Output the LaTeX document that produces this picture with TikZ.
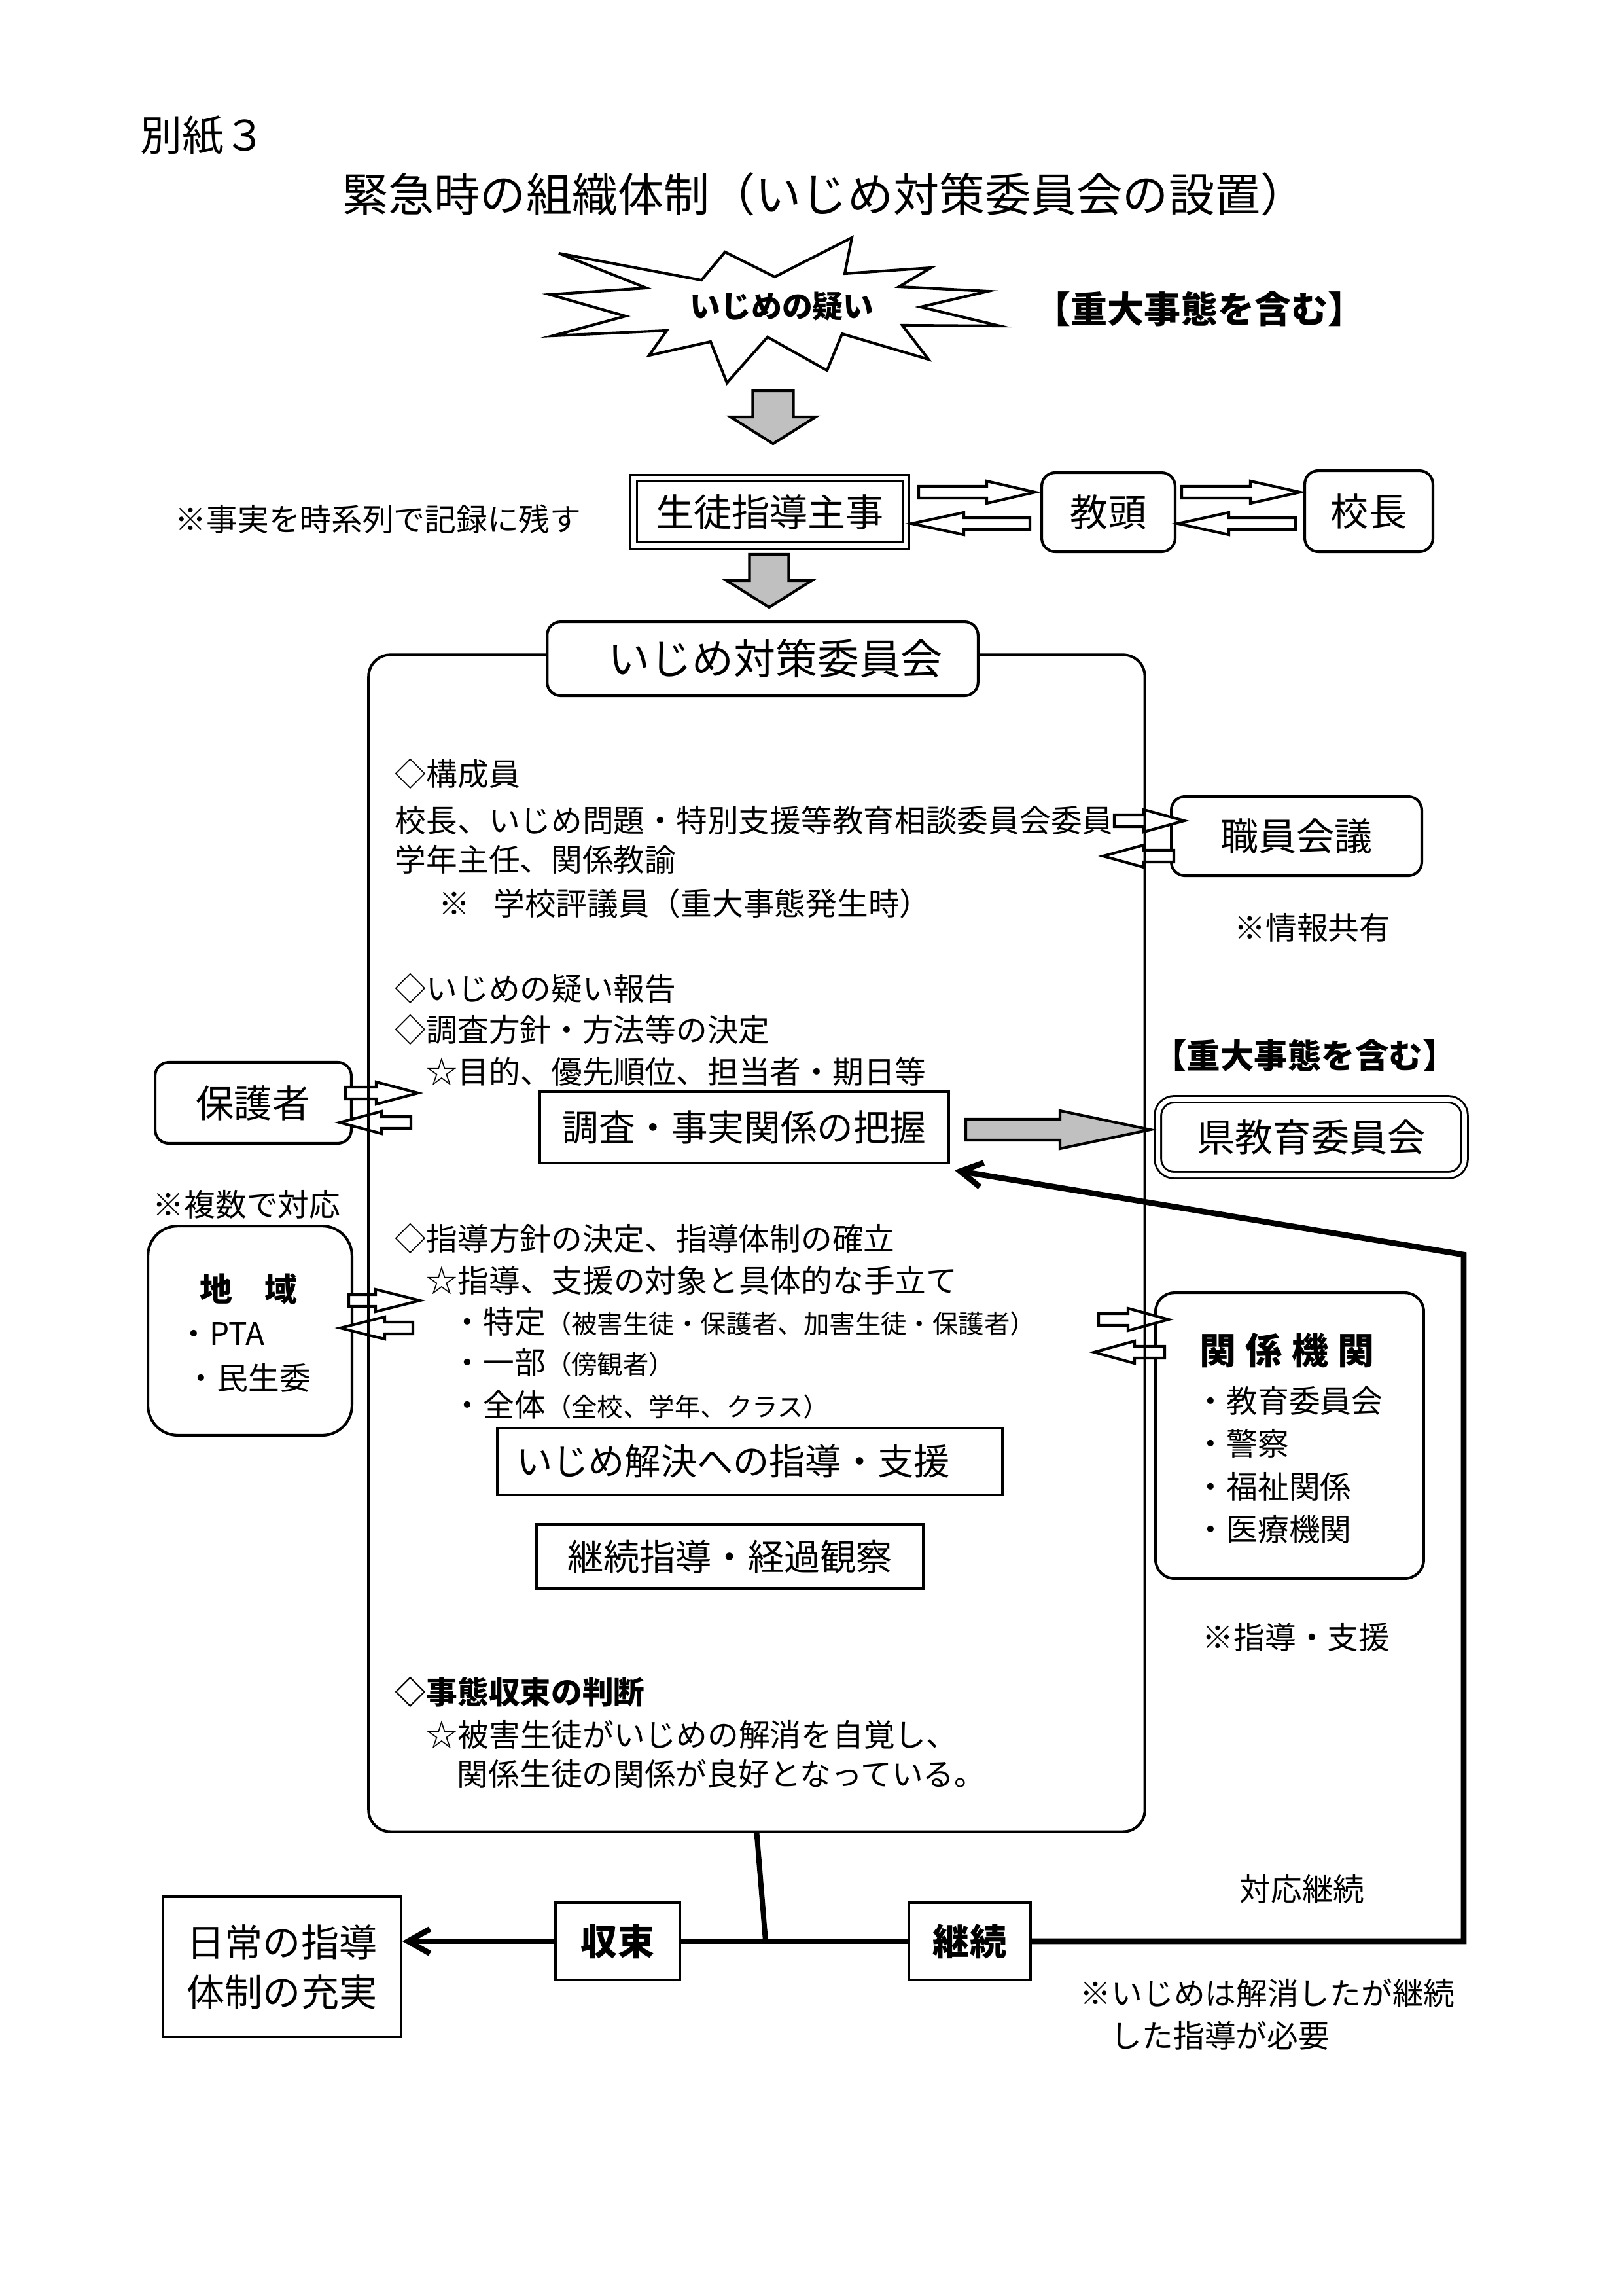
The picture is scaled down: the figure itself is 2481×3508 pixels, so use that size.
\documentclass[tikz,border=0pt]{standalone}
\usepackage{fontspec}
\setmainfont{Noto Sans CJK JP}
\usetikzlibrary{arrows.meta}
\newcommand\pxl{0.24083pt}
\newcommand\smallp[1]{{\fontsize{9.5}{11}\selectfont #1}}
\definecolor{arrowgray}{RGB}{192,192,192}
\begin{document}
\begin{tikzpicture}[x=0.0084643cm,y=-0.0084643cm,
    every node/.style={inner sep=0pt,font=\fontsize{11.5}{14}\selectfont},
    txt/.style={anchor=west},
    wh/.style 2 args={minimum width=#1*\pxl,minimum height=#2*\pxl},
    box/.style={draw,line width=1pt,fill=white,font=\fontsize{14}{18.3}\selectfont},
    rbox/.style={box,rounded corners=5pt},
    dline/.style={double,double distance=1.7pt,line width=0.7pt},
    heavy/.style={line width=2.1pt},
    barb/.style={-{Straight Barb[length=8pt,width=9pt]}},
    pics/openarrow/.style 2 args={code={
      \draw[line width=1pt,fill=white] (0,-9) -- (#1-#2,-9) -- (#1-#2,-17)
        -- (#1,0) -- (#1-#2,17) -- (#1-#2,9) -- (0,9) -- cycle;}},
    pics/grayarrow/.style n args={4}{code={
      \draw[line width=1pt,fill=arrowgray] (0,-#3) -- (#1-#2,-#3) -- (#1-#2,-#4)
        -- (#1,0) -- (#1-#2,#4) -- (#1-#2,#3) -- (0,#3) -- cycle;}}]
  \useasboundingbox (0,0) rectangle (2481,3508);
  \node[txt,font=\fontsize{15.4}{18}\selectfont] (bessi) at (214,207) {別紙３};
  \node[font=\fontsize{16.9}{20}\selectfont] (title) at (1260,297) {緊急時の組織体制（いじめ対策委員会の設置）};
  % starting point
  \draw[line width=1pt,fill=white] (854,387) -- (1072,428) -- (1108,385) -- (1184,423)
    -- (1302,363) -- (1291,418) -- (1423,409) -- (1374,438) -- (1510,445) -- (1407,469)
    -- (1528,498) -- (1379,497) -- (1419,549) -- (1287,510) -- (1264,566) -- (1173,515)
    -- (1111,585) -- (1086,522) -- (992,543) -- (1019,505) -- (845,513) -- (956,483)
    -- (840,450) -- (988,440) -- cycle;
  \node[font=\bfseries\fontsize{11.3}{14}\selectfont] (giwaku) at (1195,468) {いじめの疑い};
  \node[font=\bfseries\fontsize{13.5}{16}\selectfont] (juudai) at (1833,472) {【重大事態を含む】};
  \pic[rotate=-90] at (1181.5,597) {grayarrow={81}{41}{31}{65}};
  % first report
  \node[box,dline,wh={416}{103}] (shido) at (1176.5,782) {生徒指導主事};
  \node[rbox,wh={204}{121}] (kyoto) at (1694,782.5) {教頭};
  \node[rbox,wh={196}{124}] (kocho) at (2092,781) {校長};
  \node[txt] (kiroku) at (267,793) {※事実を時系列で記録に残す};
  \pic at (1404,752) {openarrow={178}{74}};
  \pic[rotate=180] at (1574,800) {openarrow={181}{80}};
  \pic at (1806,752) {openarrow={181}{76}};
  \pic[rotate=180] at (1980,800) {openarrow={180}{78}};
  \pic[rotate=-90] at (1175.5,847) {grayarrow={81}{41}{30}{65}};
  % outside partners
  \node[rbox,wh={383}{121}] (shokuin) at (1981.5,1277.5) {職員会議};
  \node (johokyoyu) at (2006,1417) {※情報共有};
  \node[font=\bfseries\fontsize{12.4}{15}\selectfont] (juudai2) at (1994,1613) {【重大事態を含む】};
  \node[rbox,dline,wh={469}{116},rounded corners=6pt] (kenkyoi) at (2004,1737.5) {県教育委員会};
  \node[rbox,wh={300}{124}] (hogosha) at (387,1685) {保護者};
  \node[txt] (fukusu) at (233,1840) {※複数で対応};
  \node[rbox,wh={312}{320},rounded corners=11pt] (chiiki) at (382,2033) {};
  \node[font=\bfseries\fontsize{12}{14}\selectfont] (chiikimei) at (380,1970) {地　域};
  \node[txt] (pta) at (272,2038) {・PTA};
  \node[txt] (minsei) at (283,2105) {・民生委};
  \node[rbox,wh={410}{437},rounded corners=7pt] (kikan) at (1971,2193.5) {};
  \node[font=\bfseries\fontsize{13.5}{16}\selectfont] (kikanmei) at (1967,2063) {関\hspace{0.25em}係\hspace{0.25em}機\hspace{0.25em}関};
  \node[txt] (kikan1) at (1826,2140) {・教育委員会};
  \node[txt] (kikan2) at (1826,2205) {・警察};
  \node[txt] (kikan3) at (1826,2271) {・福祉関係};
  \node[txt] (kikan4) at (1826,2336) {・医療機関};
  \node (shien) at (1981,2501) {※指導・支援};
  \pic at (1703,1254) {openarrow={107}{62}};
  \pic[rotate=180] at (1794,1308) {openarrow={108}{62}};
  \pic at (528,1670) {openarrow={111}{64}};
  \pic[rotate=180] at (628,1715) {openarrow={109}{64}};
  \pic at (533,1987) {openarrow={109}{68}};
  \pic[rotate=180] at (631,2029) {openarrow={111}{68}};
  \pic at (1679,2016) {openarrow={107}{62}};
  \pic[rotate=180] at (1780,2066) {openarrow={108}{62}};
  % committee
  \node[draw,line width=1pt,rounded corners=8pt,wh={1187}{1799}] (bigbox) at (1156.5,1899.5) {};
  \node[rbox,font=\fontsize{15.4}{18}\selectfont,wh={659}{113},text width=132.7pt,align=right,inner xsep=13pt] (iinkai) at (1165.5,1006.5) {いじめ対策委員会};
  \node[txt] (kosei) at (603,1182) {◇構成員};
  \node[txt] (kosei1) at (603,1253) {校長、いじめ問題・特別支援等教育相談委員会委員};
  \node[txt] (kosei2) at (603,1313) {学年主任、関係教諭};
  \node[txt] (kosei3) at (670,1380) {※\hspace{0.75em}学校評議員（重大事態発生時）};
  \node[txt] (hokoku) at (603,1510) {◇いじめの疑い報告};
  \node[txt] (hoshin) at (603,1573) {◇調査方針・方法等の決定};
  \node[txt] (mokuteki) at (651,1637) {☆目的、優先順位、担当者・期日等};
  \node[box,wh={625}{109},font=\fontsize{13.4}{16}\selectfont] (chosa) at (1137.5,1722.5) {調査・事実関係の把握};
  \pic at (1476,1726) {grayarrow={282}{138}{16}{29}};
  \node[txt] (taisei) at (603,1892) {◇指導方針の決定、指導体制の確立};
  \node[txt] (teate) at (651,1956) {☆指導、支援の対象と具体的な手立て};
  \node[txt] (tokutei) at (690,2019) {・特定\smallp{（被害生徒・保護者、加害生徒・保護者）}};
  \node[txt] (ichibu) at (690,2081) {・一部\smallp{（傍観者）}};
  \node[txt] (zentai) at (690,2146) {・全体\smallp{（全校、学年、クラス）}};
  \node[box,wh={772}{102},font=\fontsize{13.3}{16}\selectfont,text width=171.9pt,align=left,inner xsep=7pt] (kaiketsu) at (1146,2233) {いじめ解決への指導・支援};
  \node[box,wh={591}{98},font=\fontsize{13.3}{16}\selectfont] (keizokushido) at (1115.5,2378) {継続指導・経過観察};
  \node[txt,font=\bfseries\fontsize{11.5}{14}\selectfont] (handan) at (603,2585) {◇事態収束の判断};
  \node[txt] (jikaku) at (651,2650) {☆被害生徒がいじめの解消を自覚し、};
  \node[txt] (ryoko) at (698,2710) {関係生徒の関係が良好となっている。};
  % closing
  \node[box,wh={364}{214},align=center] (nichijo) at (431,3005) {日常の指導\\体制の充実};
  \node[box,wh={190}{118},font=\bfseries\fontsize{13.5}{16}\selectfont] (shusoku) at (944,2966) {収束};
  \node[box,wh={186}{118},font=\bfseries\fontsize{13.5}{16}\selectfont] (keizoku) at (1482,2966) {継続};
  \coordinate (junc) at (1170,2966);
  \coordinate (corner) at (2237,2966);
  \coordinate (turn) at (2237,1917);
  \draw[line width=1.9pt] (bigbox.south) -- (junc);
  \draw[heavy] (keizoku) -- (shusoku);
  \draw[heavy,barb] (shusoku) -- (nichijo.east |- shusoku);
  \draw[heavy,barb] (keizoku) -- (corner) -- (turn) -- ([shift={(7,9)}]chosa.south east);
  \node (taio) at (1990,2886) {対応継続};
  \node[txt] (hitsuyo1) at (1650,3045) {※いじめは解消したが継続};
  \node[txt] (hitsuyo2) at (1697,3110) {した指導が必要};
\end{tikzpicture}
\end{document}
